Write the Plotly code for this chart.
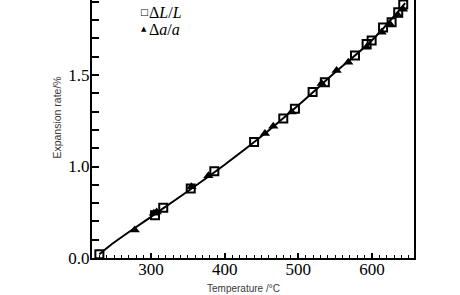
import plotly.graph_objects as go

# Data (temperature in °C, expansion rate in %)
sq_T = [230, 305.5, 316.7, 354, 386, 440, 479.6, 495.4, 519.4, 536, 576.9, 592.7, 599.5, 615, 626.6, 635.6, 642.4]
sq_v = [0.52, 0.734, 0.774, 0.88, 0.974, 1.134, 1.262, 1.316, 1.407, 1.46, 1.607, 1.67, 1.689, 1.76, 1.789, 1.843, 1.885]

tri_T = [278, 304, 307.8, 355, 378, 454.7, 466, 491, 531.6, 552, 567.8, 592.7, 613, 624, 635.6, 642]
tri_v = [0.653, 0.744, 0.752, 0.889, 0.949, 1.18, 1.22, 1.298, 1.453, 1.525, 1.57, 1.652, 1.734, 1.78, 1.825, 1.86]

fit_T = [230, 245, 300, 350, 400, 450, 500, 550, 600, 645]
fit_v = [0.52, 0.57, 0.725, 0.865, 1.01, 1.165, 1.335, 1.515, 1.69, 1.893]

y_tickvals = [0.5, 1.0, 1.5]
y_ticktext = ["0.0", "1.0", "1.5"]
x_tickvals = [300, 400, 500, 600]

fig = go.Figure()
fig.add_trace(go.Scatter(x=fit_T, y=fit_v, mode="lines", line=dict(color="black", width=2),
                         showlegend=False, line_shape="spline"))
fig.add_trace(go.Scatter(x=sq_T, y=sq_v, mode="markers", showlegend=False,
                         marker=dict(symbol="square-open", size=8, color="black", line=dict(width=2))))
fig.add_trace(go.Scatter(x=tri_T, y=tri_v, mode="markers", showlegend=False,
                         marker=dict(symbol="triangle-up", size=9, color="black")))

serif = "Liberation Serif"
fig.update_layout(
    width=460, height=295,
    margin=dict(l=92, r=46, t=0, b=37),
    paper_bgcolor="white", plot_bgcolor="white",
    xaxis=dict(range=[220, 657], tickvals=x_tickvals, ticks="inside", ticklen=5, tickwidth=1.5,
               tickcolor="black", showline=True, linecolor="black", linewidth=2, showgrid=False,
               zeroline=False, ticklabelstandoff=-5,
               tickfont=dict(family=serif, size=17, color="black"),
               minor=dict(tickmode="linear", tick0=220, dtick=10, ticks="inside", ticklen=3,
                          tickwidth=1.2, tickcolor="black", showgrid=False)),
    yaxis=dict(range=[0.5, 1.91], tickvals=y_tickvals, ticktext=y_ticktext, ticks="inside",
               ticklen=7, tickwidth=1.5, tickcolor="black", showline=True, linecolor="black",
               linewidth=2, mirror=True, showgrid=False, zeroline=False, ticklabelstandoff=-3,
               tickfont=dict(family=serif, size=17, color="black"),
               minor=dict(tickmode="linear", tick0=0.5, dtick=0.1, ticks="inside", ticklen=7,
                          tickwidth=1.5, tickcolor="black", showgrid=False)),
)

fig.add_annotation(text="Expansion rate/%", xref="paper", yref="paper", x=-0.108, y=0.545,
                   xanchor="center", yanchor="middle", textangle=-90, showarrow=False,
                   font=dict(family="Liberation Sans", size=10.5, color="#3a3a3a"))
fig.add_annotation(text="Temperature /°C", xref="paper", yref="paper", x=0.47, y=-0.118,
                   xanchor="center", yanchor="middle", showarrow=False,
                   font=dict(family="Liberation Sans", size=10, color="#3a3a3a"))
# legend (text symbols + labels)
fig.add_annotation(text="□", xref="paper", yref="paper", x=0.1615, y=0.952,
                   xanchor="center", yanchor="middle", showarrow=False,
                   font=dict(family="DejaVu Sans", size=9, color="black"))
fig.add_annotation(text="▲", xref="paper", yref="paper", x=0.1615, y=0.886,
                   xanchor="center", yanchor="middle", showarrow=False,
                   font=dict(family="DejaVu Sans", size=7, color="black"))
fig.add_annotation(text="Δ<i>L</i>/<i>L</i>", xref="paper", yref="paper",
                   x=0.172, y=0.952, xanchor="left", yanchor="middle", showarrow=False,
                   font=dict(family=serif, size=16, color="black"))
fig.add_annotation(text="Δ<i>a</i>/<i>a</i>", xref="paper", yref="paper",
                   x=0.172, y=0.884, xanchor="left", yanchor="middle", showarrow=False,
                   font=dict(family=serif, size=16, color="black"))

fig.write_html("out.html")
